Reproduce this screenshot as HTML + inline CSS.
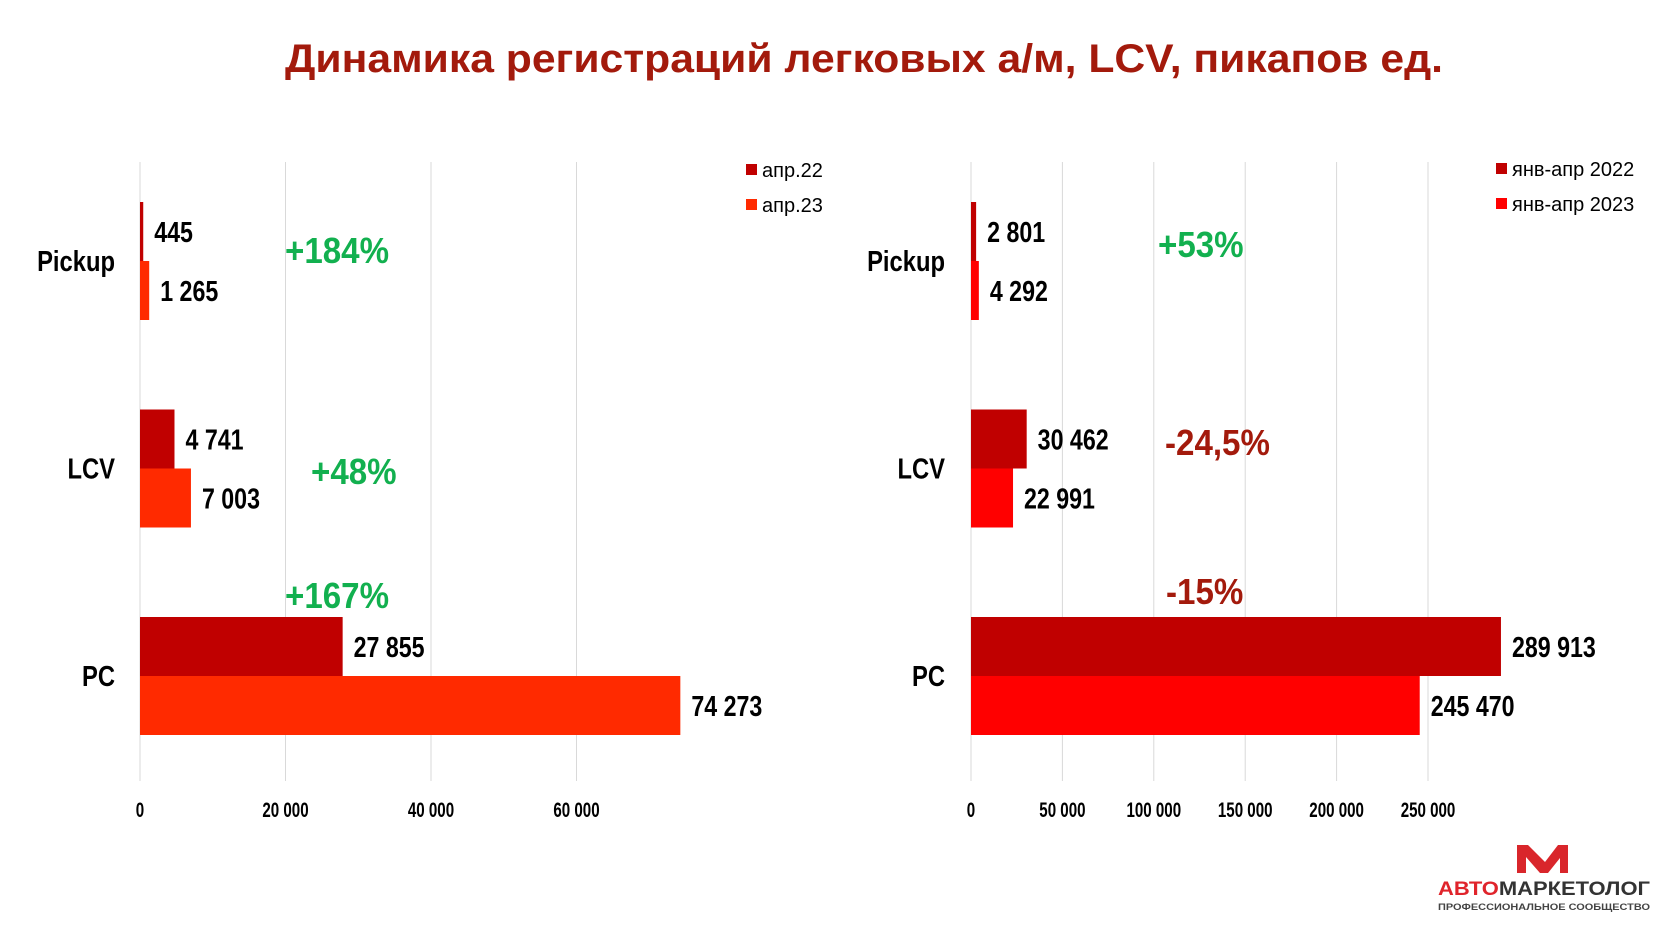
<!DOCTYPE html>
<html><head><meta charset="utf-8">
<style>
html,body{margin:0;padding:0;background:#fff;}
svg{display:block;}
text{font-family:"Liberation Sans",sans-serif;}
</style></head>
<body>
<svg id="s" width="1680" height="945" viewBox="0 0 1680 945" xmlns="http://www.w3.org/2000/svg">
<text x="864" y="72" text-anchor="middle" font-size="40" font-weight="bold" fill="#a31a0c" textLength="1158" lengthAdjust="spacingAndGlyphs">Динамика регистраций легковых а/м, LCV, пикапов ед.</text>
<g id="left"></g>
<g id="right"></g>
<g>
<path d="M1517,845 L1528,845 L1545,862 L1558,845 L1568,845 L1568,873 L1560,873 L1560,858 L1548,873 L1540,873 L1526,857 L1526,873 L1517,873 Z" fill="#d9262b"/>
<text x="1438" y="895" font-size="19" font-weight="bold" textLength="212" lengthAdjust="spacingAndGlyphs"><tspan fill="#e0242b">АВТО</tspan><tspan fill="#333">МАРКЕТОЛОГ</tspan></text>
<text x="1438" y="910" font-size="9" font-weight="bold" fill="#444" textLength="212" lengthAdjust="spacingAndGlyphs">ПРОФЕССИОНАЛЬНОЕ СООБЩЕСТВО</text>
</g>
</svg>
<script>
const categories = ["Pickup","LCV","PC"];
const leftSeriesA = [445, 4741, 27855];
const leftSeriesB = [1265, 7003, 74273];
const leftLabelsA = ["445","4 741","27 855"];
const leftLabelsB = ["1 265","7 003","74 273"];
const leftTicks = [0, 20000, 40000, 60000];
const leftTickLabels = ["0","20 000","40 000","60 000"];
const leftLegend = ["апр.22","апр.23"];
const leftChanges = ["+184%","+48%","+167%"];
const rightSeriesA = [2801, 30462, 289913];
const rightSeriesB = [4292, 22991, 245470];
const rightLabelsA = ["2 801","30 462","289 913"];
const rightLabelsB = ["4 292","22 991","245 470"];
const rightTicks = [0, 50000, 100000, 150000, 200000, 250000];
const rightTickLabels = ["0","50 000","100 000","150 000","200 000","250 000"];
const rightLegend = ["янв-апр 2022","янв-апр 2023"];
const rightChanges = ["+53%","-24,5%","-15%"];

const NS="http://www.w3.org/2000/svg";
function mk(g,tag,attrs,txt){const e=document.createElementNS(NS,tag);for(const k in attrs)e.setAttribute(k,attrs[k]);if(txt!==undefined)e.textContent=txt;g.appendChild(e);return e;}
function narrow(g,x,y,s,attrs,txt){attrs.transform='translate('+x+','+y+') scale('+s+',1)';attrs.x=0;attrs.y=0;return mk(g,'text',attrs,txt);}
function yCenter(i){return 261+i*207.5;}

function drawChart(g,cfg){
  const x=v=>cfg.x0+v*cfg.k;
  cfg.ticks.forEach((t,i)=>{
    const l=mk(g,'line',{x1:x(t),x2:x(t),y1:162,y2:781,stroke:'#d9d9d9','stroke-width':1});
    
    
    const tl=narrow(g,x(t),817,0.72,{'text-anchor':'middle','font-size':21,'font-weight':'bold',fill:'#000'},cfg.tickLabels[i]);
    
    
  });
  categories.forEach((c,i)=>{
    const yc=yCenter(i);
    const cl=narrow(g,cfg.catX,yc+10,0.82,{'text-anchor':'end','font-size':29,'font-weight':'bold',fill:'#000'},c);
    
    
    const a=mk(g,'rect',{x:cfg.x0,y:yc-59,width:Math.max(cfg.sA[i]*cfg.k,1),height:59,fill:cfg.cA});
    
    
    const b=mk(g,'rect',{x:cfg.x0,y:yc,width:Math.max(cfg.sB[i]*cfg.k,1),height:59,fill:cfg.cB});
    
    
    const la=narrow(g,x(cfg.sA[i])+11,yc-19,0.8,{'font-size':29,'font-weight':'bold',fill:'#000'},cfg.lA[i]);
    
    
    const lb=narrow(g,x(cfg.sB[i])+11,yc+40,0.8,{'font-size':29,'font-weight':'bold',fill:'#000'},cfg.lB[i]);
    
    
    const ch=cfg.changes[i];
    const pc=narrow(g,cfg.chX[i],cfg.chY[i]+13,0.92,{'font-size':36,'font-weight':'bold',fill:ch[0]==='+'?'#12b04f':'#a31a0c'},ch);
    
    
  });
  cfg.legend.forEach((n,i)=>{
    const y=cfg.legY[i];
    const r=mk(g,'rect',{x:cfg.legX,y:y-6,width:11,height:11,fill:i?cfg.cB:cfg.cA});
    
    
    const t=mk(g,'text',{x:cfg.legX+16,y:y+7,'font-size':20,fill:'#000'},n);
    
    
  });
}
drawChart(document.getElementById('left'),{x0:140,k:145.5/20000,ticks:leftTicks,tickLabels:leftTickLabels,sA:leftSeriesA,sB:leftSeriesB,lA:leftLabelsA,lB:leftLabelsB,cA:'#c00000',cB:'#ff2a00',catX:115,changes:leftChanges,chX:[285,311,285],chY:[250,471,595],legend:leftLegend,legX:746,legY:[170,205]});
drawChart(document.getElementById('right'),{x0:971,k:457/250000,ticks:rightTicks,tickLabels:rightTickLabels,sA:rightSeriesA,sB:rightSeriesB,lA:rightLabelsA,lB:rightLabelsB,cA:'#c00000',cB:'#ff0000',catX:945,changes:rightChanges,chX:[1158,1165,1166],chY:[244,442,591],legend:rightLegend,legX:1496,legY:[169,204]});
</script>
</body></html>
